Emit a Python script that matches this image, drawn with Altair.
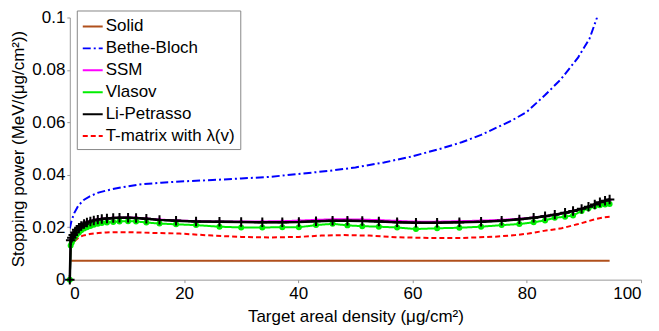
import altair as alt
import pandas as pd

FONT = "Liberation Sans"

series_names = ["Solid", "Bethe-Bloch", "SSM", "Vlasov", "Li-Petrasso", "T-matrix with \u03bb(v)"]
series_colors = ["#b0501c", "#0000ff", "#ff00ff", "#00ee00", "#000000", "#ff0000"]
series_dash = [[1, 0], [8, 3, 2, 3], [1, 0], [1, 0], [1, 0], [5, 3]]

# Solid
solid_x = [0.0, 94.5]
solid_y = [0.0072, 0.0072]

# Bethe-Bloch
bb_x = [0, 0.3, 0.8, 1.5, 2.5, 3.5, 5, 7, 9, 12.2, 16, 20, 25, 30, 35, 40, 45.4, 50, 55,
        59.9, 65, 68.6, 72, 77.3, 80, 83.2, 86, 89, 91, 92.3]
bb_y = [0.0195, 0.0225, 0.0255, 0.0283, 0.0305, 0.0318, 0.0332, 0.0343, 0.0352, 0.0363,
        0.0370, 0.0375, 0.0380, 0.0386, 0.0392, 0.0403, 0.0415, 0.0428, 0.0447, 0.0470,
        0.0500, 0.0524, 0.0552, 0.0606, 0.0640, 0.0704, 0.0765, 0.0848, 0.0920, 0.1000]

# Shared grid of the kinetic models (marker positions)
grid_x = [0, 0.15, 0.35, 0.6, 0.9, 1.2, 1.6, 2.0, 2.5, 3.0, 3.6, 4.2, 4.9, 5.6, 6.5, 7.6,
          8.7, 10.2, 11.6, 13.4, 15.7, 18.6, 22.1, 26.2, 30.0, 33.7, 37.2, 40.1, 43.1, 46.0,
          48.6, 51.2, 54.1, 57.3, 60.6, 64.3, 68.2, 72.0, 75.6, 78.7, 81.2, 83.2, 84.9, 86.7,
          88.1, 89.6, 90.8, 91.9, 92.8, 93.7, 94.5]

lp_y = [0, 0.0150, 0.0160, 0.0170, 0.0180, 0.0190, 0.0198, 0.0205, 0.0212, 0.0218, 0.0222,
        0.0226, 0.0229, 0.0231, 0.0233, 0.0235, 0.0236, 0.0236, 0.0235, 0.0232, 0.0228,
        0.0225, 0.0222, 0.0221, 0.0220, 0.0219, 0.0219, 0.0220, 0.0223, 0.0225, 0.0225,
        0.0224, 0.0222, 0.0219, 0.0217, 0.0217, 0.0219, 0.0221, 0.0225, 0.0230, 0.0236,
        0.0242, 0.0248, 0.0255, 0.0262, 0.0270, 0.0278, 0.0287, 0.0295, 0.0301, 0.0306]

ssm_y = [0, 0.0150, 0.0160, 0.0170, 0.0180, 0.0190, 0.0198, 0.0205, 0.0212, 0.0218, 0.0222,
         0.0226, 0.0229, 0.0231, 0.0233, 0.0235, 0.0236, 0.0237, 0.0236, 0.0233, 0.0229,
         0.0226, 0.0223, 0.0222, 0.0222, 0.0222, 0.0223, 0.0225, 0.0228, 0.0230, 0.0230,
         0.0229, 0.0227, 0.0224, 0.0221, 0.0221, 0.0223, 0.0225, 0.0228, 0.0232, 0.0237,
         0.0242, 0.0247, 0.0254, 0.0261, 0.0269, 0.0277, 0.0285, 0.0293, 0.0299, 0.0303]

vl_y = [0, 0.0130, 0.0142, 0.0153, 0.0163, 0.0172, 0.0180, 0.0188, 0.0195, 0.0200, 0.0205,
        0.0209, 0.0213, 0.0216, 0.0218, 0.0220, 0.0222, 0.0223, 0.0222, 0.0218, 0.0214,
        0.0211, 0.0208, 0.0202, 0.0199, 0.0199, 0.0200, 0.0200, 0.0208, 0.0213, 0.0207,
        0.0204, 0.0202, 0.0199, 0.0193, 0.0196, 0.0198, 0.0202, 0.0208, 0.0212, 0.0219,
        0.0226, 0.0236, 0.0240, 0.0245, 0.0262, 0.0272, 0.0280, 0.0284, 0.0287, 0.0289]

# T-matrix with lambda(v)
tm_x = [0, 0.05, 0.2, 0.5, 1.0, 1.5, 2.3, 3.5, 5.0, 6.4, 8.0, 10.0, 12.2, 15.0, 19.2, 25.0,
        30.0, 35.0, 40.1, 44.0, 48.0, 52.4, 57.0, 62.8, 68.6, 74.5, 78.0, 80.3, 83.0, 86.1,
        89.0, 91.9, 93.5, 94.5]
tm_y = [0, 0.0110, 0.0125, 0.0138, 0.0150, 0.0160, 0.0168, 0.0174, 0.0178, 0.0180, 0.0181,
        0.0181, 0.0180, 0.0178, 0.0176, 0.0168, 0.0163, 0.0161, 0.0163, 0.0168, 0.0170,
        0.0168, 0.0162, 0.0159, 0.0159, 0.0164, 0.0170, 0.0176, 0.0186, 0.0196, 0.0212,
        0.0230, 0.0238, 0.0240]

x_ticks = [0, 20, 40, 60, 80, 100]
y_ticks = [0, 0.02, 0.04, 0.06, 0.08, 0.1]

rows = []
def add(name, xs, ys):
    for i, (a, b) in enumerate(zip(xs, ys)):
        rows.append({"series": name, "x": a, "y": b, "i": i})

add(series_names[0], solid_x, solid_y)
add(series_names[1], bb_x, bb_y)
add(series_names[2], grid_x, ssm_y)
add(series_names[3], grid_x, vl_y)
add(series_names[4], grid_x, lp_y)
add(series_names[5], tm_x, tm_y)
df = pd.DataFrame(rows)

xscale = alt.Scale(domain=[0, 100], nice=False)
yscale = alt.Scale(domain=[0, 0.1], nice=False)

xenc = alt.X("x:Q", scale=xscale,
             axis=alt.Axis(values=x_ticks, title="Target areal density (\u03bcg/cm\u00b2)",
                           grid=False, format="d", titlePadding=7, labelPadding=3))
yenc = alt.Y("y:Q", scale=yscale,
             axis=alt.Axis(values=y_ticks, title="Stopping power (MeV/(\u03bcg/cm\u00b2))",
                           grid=False, format="~g"))

lines = alt.Chart(df).mark_line(strokeWidth=2, clip=True).encode(
    x=xenc, y=yenc,
    color=alt.Color("series:N", scale=alt.Scale(domain=series_names, range=series_colors),
                    legend=alt.Legend(orient="none", legendX=7, legendY=-7, title=None,
                                      symbolType="stroke", symbolSize=400,
                                      symbolStrokeWidth=2, labelFontSize=17,
                                      labelFont=FONT, labelColor="black",
                                      strokeColor="#888888", fillColor="white",
                                      padding=5, rowPadding=3, labelLimit=300,
                                      labelOffset=2)),
    strokeDash=alt.StrokeDash("series:N",
                              scale=alt.Scale(domain=series_names, range=series_dash),
                              legend=None),
    order="i:Q",
)

lp_line = alt.Chart(df).transform_filter(
    alt.datum.series == series_names[4]
).mark_line(strokeWidth=2.5, color="black").encode(x=xenc, y=yenc, order="i:Q")

ssm_pts = alt.Chart(df).transform_filter(
    alt.datum.series == series_names[2]
).mark_circle(size=16, color="#ff00ff", opacity=1).encode(x=xenc, y=yenc)

vl_pts = alt.Chart(df).transform_filter(
    alt.datum.series == series_names[3]
).mark_circle(size=36, color="#00ee00", opacity=1).encode(x=xenc, y=yenc)

lp_pts = alt.Chart(df).transform_filter(
    alt.datum.series == series_names[4]
).mark_point(shape="M-1,0L1,0M0,-1L0,1", size=90, color="black", strokeWidth=2,
             filled=False, opacity=1).encode(x=xenc, y=yenc)

chart = alt.layer(lines, ssm_pts, vl_pts, lp_line, lp_pts).properties(
    width=573, height=263,
    autosize=alt.AutoSizeParams(type="none"),
    padding={"left": 62, "top": 9, "right": 10, "bottom": 50},
).configure_view(stroke=None).configure_axis(
    domainColor="#999999", tickColor="#999999", tickSize=3,
    labelFont=FONT, labelFontSize=17, labelColor="black", labelPadding=2,
    titleFont=FONT, titleFontSize=17, titleColor="black", titleFontWeight="normal",
    titlePadding=4,
)

chart.save("out.html", embed_options={"renderer": "svg", "actions": False})
